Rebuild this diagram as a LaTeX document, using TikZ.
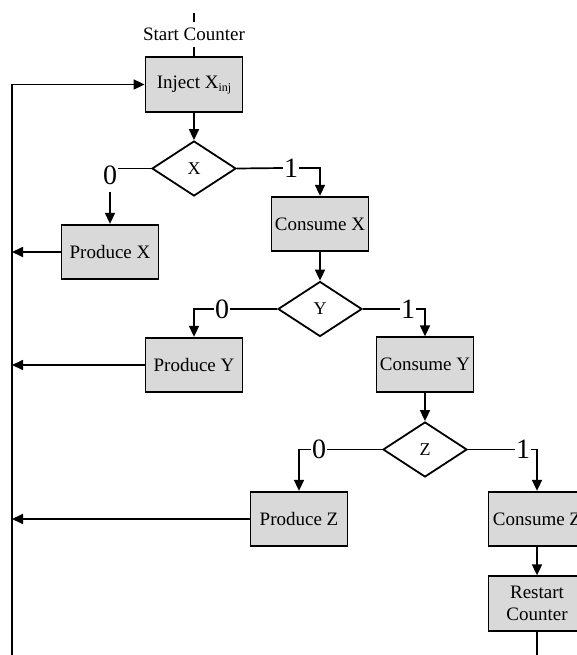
\documentclass[tikz,border=0pt]{standalone}
\usepackage{fontspec}
\setmainfont{Liberation Serif}
\usetikzlibrary{shapes.geometric,arrows.meta}
\definecolor{boxfill}{RGB}{217,217,217}
\begin{document}
\begin{tikzpicture}[x=1pt,y=-1pt,
  procbox/.style={draw, line width=1.8pt, fill=boxfill, minimum width=97pt, minimum height=54.5pt, inner sep=0pt, font=\fontsize{19}{22}\selectfont, align=center},
  decbox/.style={draw, diamond, line width=1.8pt, fill=white, minimum width=84pt, minimum height=55pt, inner sep=0pt, font=\fontsize{18}{20}\selectfont},
  lbl/.style={inner sep=1pt, font=\fontsize{28}{28}\selectfont},
  conn/.style={line width=1.7pt},
  arr/.style={conn, -{Triangle[length=11pt,width=10pt]}}
]
\useasboundingbox (0,0) rectangle (577,655);

% process and decision nodes
\node[procbox] (inj) at (194,84.5) {Inject X\raisebox{-3pt}{\fontsize{12}{12}\selectfont inj}};
\node[decbox]  (dx)  at (194,168.5) {X};
\node[procbox] (px)  at (110,252) {Produce X};
\node[procbox] (cx)  at (320,224) {Consume X};
\node[decbox]  (dy)  at (320,309) {Y};
\node[procbox] (py)  at (194,365) {Produce Y};
\node[procbox] (cy)  at (425,364.5) {Consume Y};
\node[decbox]  (dz)  at (425,449.5) {Z};
\node[procbox] (pz)  at (299,519) {Produce Z};
\node[procbox] (czb) at (537,519) {Consume Z};
\node[procbox] (rc)  at (537,603.5) {Restart\\Counter};

% branch labels
\node[lbl] (x0) at (110,175.5) {0};
\node[lbl] (x1) at (291,168) {1};
\node[lbl] (y0) at (222,309) {0};
\node[lbl] (y1) at (408,309) {1};
\node[lbl] (z0) at (319,449.5) {0};
\node[lbl] (z1) at (523,449.5) {1};

% free ends
\coordinate (st)   at (194,13);
\coordinate (ltop) at (12,84.5);
\coordinate (lbot) at (12,655);
\coordinate (rbot) at (537,655);

% start
\draw[conn] (st) -- (inj.north) node[midway, fill=white, inner xsep=1pt, inner ysep=6pt, font=\fontsize{19}{22}\selectfont] {Start Counter};
\draw[arr] (inj.south) -- (dx.north);

% X decision
\draw[conn] (dx.west) -- (x0.east |- dx.west);
\draw[arr] ([yshift=-6pt]x0.south) -- (px.north);
\draw[conn] (dx.east) -- (x1.west);
\draw[arr] (x1.east) -| (cx.north);
\draw[arr] (cx.south) -- (dy.north);

% Y decision
\draw[conn] (dy.west) -- (y0.east);
\draw[arr] (y0.west) -| (py.north);
\draw[conn] (dy.east) -- (y1.west);
\draw[arr] (y1.east) -| (cy.north);
\draw[arr] (cy.south) -- (dz.north);

% Z decision
\draw[conn] (dz.west) -- (z0.east);
\draw[arr] (z0.west) -| (pz.north);
\draw[conn] (dz.east) -- (z1.west);
\draw[arr] (z1.east) -| (czb.north);
\draw[arr] (czb.south) -- (rc.north);
\draw[conn] (rc.south) -- (rbot);

% feedback loop
\draw[arr] (lbot) -- (ltop) -- (inj.west);
\draw[arr] (px.west) -- (px.west -| ltop);
\draw[arr] (py.west) -- (py.west -| ltop);
\draw[arr] (pz.west) -- (pz.west -| ltop);
\end{tikzpicture}
\end{document}
